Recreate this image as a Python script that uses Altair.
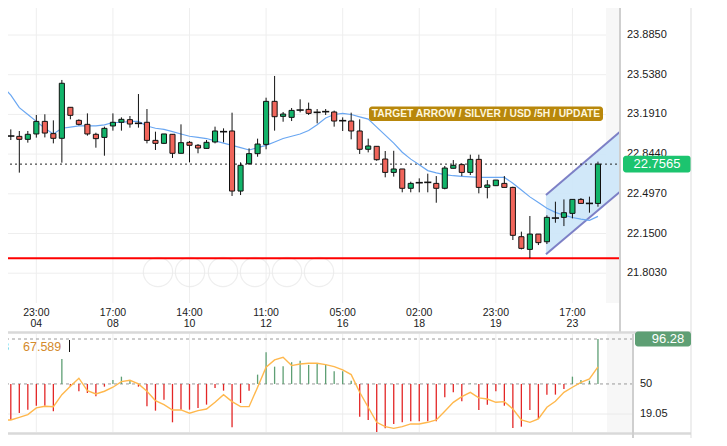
import altair as alt
import pandas as pd

# ---------------- data ----------------
idx = list(range(1, 72))
open_ = [22.990, 23.002, 22.999, 22.973, 23.020, 23.130, 23.023, 22.982, 23.253, 23.139,
         23.104, 23.017, 22.990, 23.090, 23.122, 23.145, 23.113, 23.122, 22.964, 22.938,
         23.017, 22.851, 22.947, 22.921, 22.894, 22.950, 23.040, 23.046, 22.521, 22.760,
         22.848, 22.929, 23.305, 23.174, 23.165, 23.229, 23.235, 23.209, 23.215, 23.212,
         23.136, 23.133, 23.046, 22.886, 22.912, 22.801, 22.684, 22.714, 22.545, 22.594,
         22.597, 22.588, 22.545, 22.720, 22.752, 22.684, 22.798, 22.553, 22.568, 22.588,
         22.553, 22.122, 22.011, 22.145, 22.078, 22.285, 22.291, 22.326, 22.448, 22.413,
         22.413]
high = [23.031, 23.060, 23.046, 23.046, 23.186, 23.192, 23.139, 23.492, 23.253, 23.148,
        23.200, 23.031, 23.084, 23.200, 23.165, 23.177, 23.369, 23.238, 23.040, 23.020,
        23.017, 23.104, 22.958, 22.932, 22.967, 23.084, 23.069, 23.206, 22.772, 22.894,
        22.979, 23.337, 23.527, 23.212, 23.247, 23.323, 23.294, 23.238, 23.238, 23.224,
        23.165, 23.206, 23.148, 22.979, 22.912, 22.871, 22.873, 22.714, 22.603, 22.632,
        22.673, 22.652, 22.740, 22.792, 22.763, 22.839, 22.839, 22.617, 22.617, 22.652,
        22.559, 22.166, 22.303, 22.145, 22.309, 22.428, 22.448, 22.448, 22.460, 22.472,
        22.778]
low = [22.915, 22.967, 22.682, 22.944, 22.988, 22.990, 22.938, 22.769, 23.148, 23.095,
       23.005, 22.900, 22.830, 23.049, 23.049, 23.075, 23.075, 22.938, 22.880, 22.932,
       22.810, 22.851, 22.772, 22.851, 22.891, 22.938, 22.947, 22.478, 22.486, 22.749,
       22.821, 22.886, 23.049, 23.127, 23.133, 23.209, 23.186, 23.113, 23.186, 23.084,
       23.046, 22.973, 22.845, 22.859, 22.786, 22.641, 22.647, 22.510, 22.510, 22.510,
       22.510, 22.419, 22.536, 22.720, 22.652, 22.661, 22.501, 22.457, 22.565, 22.553,
       22.093, 22.011, 21.935, 22.049, 22.058, 22.244, 22.215, 22.282, 22.413, 22.332,
       22.384]
close = [23.011, 23.002, 22.973, 23.017, 23.130, 23.028, 22.982, 23.463, 23.183, 23.104,
         23.020, 22.979, 23.069, 23.122, 23.148, 23.107, 23.113, 22.964, 22.938, 23.020,
         22.851, 22.944, 22.921, 22.897, 22.947, 23.046, 23.040, 22.521, 22.746, 22.848,
         22.932, 23.305, 23.171, 23.194, 23.226, 23.229, 23.200, 23.209, 23.215, 23.133,
         23.136, 23.046, 22.886, 22.915, 22.795, 22.684, 22.714, 22.545, 22.588, 22.594,
         22.597, 22.545, 22.722, 22.746, 22.684, 22.798, 22.553, 22.574, 22.617, 22.553,
         22.134, 22.020, 22.145, 22.070, 22.291, 22.285, 22.332, 22.448, 22.413, 22.413,
         22.7565]
ma = [23.44, 23.36, 23.25, 23.19, 23.13, 23.07, 23.02, 23.07, 23.08, 23.09,
      23.09, 23.09, 23.10, 23.12, 23.12, 23.13, 23.13, 23.09, 23.07, 23.06,
      23.04, 23.02, 23.00, 22.99, 22.98, 22.96, 22.94, 22.92, 22.90, 22.88,
      22.90, 22.92, 22.95, 22.98, 23.00, 23.02, 23.05, 23.10, 23.16, 23.19,
      23.20, 23.19, 23.17, 23.15, 23.08, 23.01, 22.94, 22.86, 22.80, 22.75,
      22.70, 22.68, 22.665, 22.655, 22.65, 22.645, 22.64, 22.64, 22.64, 22.64,
      22.59, 22.53, 22.47, 22.42, 22.37, 22.335, 22.31, 22.29, 22.275, 22.265,
      22.30]
hist = [13.9, 12.9, 20.1, 23.5, 27.6, 27.6, 21.9, 75.8, 47.2, 42.5,
        40.7, 37.3, 47.2, 54.1, 57.5, 53.1, 47.2, 27.0, 22.5, 33.8,
        10.5, 23.5, 23.5, 25.3, 28.7, 45.9, 43.1, 5.4, 30.4, 43.1,
        59.6, 82.7, 67.8, 68.2, 72.4, 74.0, 69.6, 70.6, 69.9, 63.1,
        63.1, 53.4, 16.3, 12.9, 0.5, 4.3, 8.8, 10.5, 11.5, 11.5,
        11.5, 11.5, 36.3, 41.4, 32.2, 50.5, 23.2, 28.7, 42.5, 27.6,
        4.6, 6.0, 23.2, 13.9, 39.0, 39.0, 44.8, 57.5, 54.1, 53.4,
        96.28]
signal = [12.9, 12.9, 15.6, 18.4, 25.3, 27.0, 26.6, 39.0, 47.6, 55.9,
          43.1, 39.7, 42.5, 46.6, 52.4, 53.8, 50.0, 42.5, 32.8, 28.7,
          23.2, 23.2, 19.8, 22.5, 24.2, 31.1, 39.0, 31.8, 26.6, 26.6,
          46.6, 67.2, 74.7, 77.5, 68.9, 70.6, 71.3, 71.3, 69.9, 67.8,
          64.4, 59.6, 41.4, 26.0, 10.5, 6.0, 4.3, 6.0, 8.8, 8.8,
          10.5, 12.9, 21.8, 31.1, 36.9, 41.4, 35.6, 34.5, 31.1, 31.8,
          24.2, 12.9, 10.5, 13.9, 26.0, 32.1, 41.4, 46.6, 51.7, 55.2,
          67.589]

tick_idx = [5, 14, 23, 32, 41, 50, 59, 68]
tick_time = ["23:00", "17:00", "14:00", "11:00", "05:00", "02:00", "23:00", "17:00"]
tick_day = ["04", "08", "10", "12", "16", "18", "19", "23"]

price_ticks = [23.885, 23.538, 23.191, 22.844, 22.497, 22.150, 21.803]
price_labels = ["23.8850", "23.5380", "23.1910", "22.8440", "22.4970", "22.1500", "21.8030"]

last_price = 22.7565
support_level = 21.933
channel_x = [64.89, 73.59]
channel_upper = [22.486, 23.040]
channel_lower = [21.968, 22.515]

ind_dashed = [96.28, 50.0]
ind_grid = [19.05]
ind_tick_vals = [50.0, 19.05]
ind_tick_labels = ["50", "19.05"]
ind_last = 96.28
sig_last = 67.589

annotation = "TARGET ARROW / SILVER / USD /5H / UPDATE"
nav_x = [158, 190, 223, 255, 287, 319]

# ---------------- styling / layout ----------------
GREEN = "#12b46a"
RED = "#f0655b"
FONT = "Liberation Sans"
OFF = 8  # page margin: layout pixels below are page coordinates


def P(v):
    return v - OFF


df = pd.DataFrame({"i": idx, "o": open_, "h": high, "l": low, "c": close,
                   "ma": ma, "hist": hist, "sig": signal})
ticks = pd.DataFrame({"i": tick_idx, "time": tick_time, "day": tick_day})
pt = pd.DataFrame({"v": price_ticks, "lab": price_labels})
chan = pd.DataFrame({"x": channel_x, "up": channel_upper, "lo": channel_lower})
one = pd.DataFrame({"a": [0]})

XS = alt.Scale(domain=[0.73, 73.59], range=[P(0), P(620)], nice=False, zero=False)
YP = alt.Scale(domain=[21.803, 23.885], range=[P(273.2), P(35)], nice=False, zero=False)
YI = alt.Scale(domain=[19.05, 96.28], range=[P(414), P(339)], nice=False, zero=False)


def X(f):
    return alt.X(f, type="quantitative", scale=XS, axis=None)


def YPf(f):
    return alt.Y(f, type="quantitative", scale=YP, axis=None)


def YIf(f):
    return alt.Y(f, type="quantitative", scale=YI, axis=None)


def V(v):
    return alt.value(P(v))


# ---------------- price panel ----------------
vgrid = alt.Chart(ticks).mark_rule(color="#eeeeee", strokeWidth=1).encode(
    x=X("i"), y=V(0), y2=V(303))
hgrid = alt.Chart(pt).mark_rule(color="#eeeeee", strokeWidth=1).encode(
    y=YPf("v"), x=V(0), x2=V(620))
hatch = alt.Chart(one).mark_rect(color="#f7f7f7").encode(
    x=V(606), x2=V(620), y=V(0), y2=V(303))

nav = [alt.Chart(one).mark_point(shape="circle", size=860, filled=False,
                                 stroke="#e8e8e8", strokeWidth=1.2).encode(
    x=V(nx), y=V(272)) for nx in nav_x]

chan_area = alt.Chart(chan).mark_area(color="#cce5f8", opacity=0.9).encode(
    x=X("x"), y=YPf("up"), y2="lo")
chan_up = alt.Chart(chan).mark_line(color="#7d80c6", strokeWidth=2).encode(
    x=X("x"), y=YPf("up"))
chan_lo = alt.Chart(chan).mark_line(color="#7d80c6", strokeWidth=2).encode(
    x=X("x"), y=YPf("lo"))

support = alt.Chart(pd.DataFrame({"v": [support_level]})).mark_rule(
    color="#ff0000", strokeWidth=2).encode(y=YPf("v"), x=V(0), x2=V(620))
lastline = alt.Chart(pd.DataFrame({"v": [last_price]})).mark_rule(
    color="#222222", strokeWidth=1, strokeDash=[2, 3]).encode(
    y=YPf("v"), x=V(0), x2=V(621))

ma_line = alt.Chart(df).mark_line(color="#6aa7f2", strokeWidth=1.2).encode(
    x=X("i"), y=YPf("ma"))

base = alt.Chart(df).transform_calculate(xl="datum.i - 0.3", xr="datum.i + 0.3",
                                         dl="datum.i - 0.42", dr="datum.i + 0.42")
wick = base.mark_rule(color="#111111", strokeWidth=1).encode(
    x=X("i"), y=YPf("l"), y2="h")
body = base.transform_filter("datum.o != datum.c").mark_bar(
    stroke="#111111", strokeWidth=1).encode(
    x=X("xl"), x2="xr", y=YPf("o"), y2="c",
    color=alt.condition("datum.c > datum.o", alt.value(GREEN), alt.value(RED)))
doji = base.transform_filter("datum.o == datum.c").mark_rule(
    color="#111111", strokeWidth=1.6).encode(
    x=X("dl"), x2="dr", y=YPf("o"))

ann_box = alt.Chart(one).mark_rect(color="#b8870b", cornerRadius=3).encode(
    x=V(369), x2=V(603), y=V(106.5), y2=V(121))
ann_txt = alt.Chart(one).mark_text(text=annotation, font=FONT, fontSize=10.3,
                                   fontWeight="bold", color="#fdf6dc",
                                   align="center", baseline="middle").encode(
    x=V(486), y=V(114))

ylabels = alt.Chart(pt).mark_text(font=FONT, fontSize=11, color="#1a1a1a",
                                  align="left", baseline="middle").encode(
    y=YPf("v"), x=V(627), text="lab")

badge_df = pd.DataFrame({"v": [last_price], "lab": ["22.7565"]})
badge = alt.Chart(badge_df).transform_calculate(
    top="datum.v + 0.0726", bot="datum.v - 0.0726").mark_rect(
    color="#1cc46f", cornerRadius=3).encode(
    x=V(623), x2=V(691), y=YPf("top"), y2="bot")
badge_txt = alt.Chart(badge_df).mark_text(font=FONT, fontSize=13, color="white",
                                          align="center", baseline="middle").encode(
    x=V(657), y=YPf("v"), text="lab")

xt1 = alt.Chart(ticks).mark_text(font=FONT, fontSize=10.5, color="#1a1a1a",
                                 baseline="middle").encode(
    x=X("i"), y=V(313), text="time")
xt2 = alt.Chart(ticks).mark_text(font=FONT, fontSize=10.5, color="#1a1a1a",
                                 baseline="middle").encode(
    x=X("i"), y=V(323.5), text="day")

border1 = alt.Chart(one).mark_rule(color="#cfcfcf", strokeWidth=2).encode(
    x=V(620), y=V(0), y2=V(332))
border2 = alt.Chart(one).mark_rule(color="#dddddd", strokeWidth=1).encode(
    x=V(691), y=V(0), y2=V(446))
sep1 = alt.Chart(one).mark_rule(color="#d9d9d9", strokeWidth=2.5).encode(
    y=V(332.5), x=V(0), x2=V(691))
sep2 = alt.Chart(one).mark_rule(color="#d9d9d9", strokeWidth=2.5).encode(
    y=V(433.5), x=V(0), x2=V(691))

price_panel = alt.layer(
    vgrid, hgrid, hatch, *nav, chan_area, chan_up, chan_lo, support, lastline,
    ma_line, wick, body, doji, ann_box, ann_txt, ylabels, badge, badge_txt,
    xt1, xt2, border1, border2, sep1, sep2)

# ---------------- indicator panel ----------------
ivgrid = alt.Chart(ticks).mark_rule(color="#eeeeee", strokeWidth=1).encode(
    x=X("i"), y=V(334), y2=V(432))
ihatch = alt.Chart(one).mark_rect(color="#f7f7f7").encode(
    x=V(607), x2=V(632), y=V(334), y2=V(432))
igrid = alt.Chart(pd.DataFrame({"v": ind_grid})).mark_rule(
    color="#eaeaea", strokeWidth=1).encode(y=YIf("v"), x=V(0), x2=V(632))
idash = alt.Chart(pd.DataFrame({"v": ind_dashed})).mark_rule(
    color="#9a9a9a", strokeWidth=1, strokeDash=[3, 3]).encode(
    y=YIf("v"), x=V(0), x2=V(632))
ibars = alt.Chart(df).transform_calculate(mid="50").mark_rule(strokeWidth=1.3).encode(
    x=X("i"), y=YIf("hist"), y2="mid",
    color=alt.condition("datum.hist >= 50", alt.value("#5e9f74"), alt.value("#e32626")))
isig = alt.Chart(df).mark_line(color="#ffb84d", strokeWidth=1.4).encode(
    x=X("i"), y=YIf("sig"))

itl = alt.Chart(pd.DataFrame({"v": ind_tick_vals, "lab": ind_tick_labels})).mark_text(
    font=FONT, fontSize=11, color="#1a1a1a", align="left", baseline="middle").encode(
    y=YIf("v"), x=V(640), text="lab")
ib_df = pd.DataFrame({"v": [ind_last], "lab": ["96.28"]})
ibadge = alt.Chart(ib_df).transform_calculate(
    top="datum.v + 7.7", bot="datum.v - 7.7").mark_rect(
    color="#5e9f74", cornerRadius=3).encode(
    x=V(635), x2=V(691), y=YIf("top"), y2="bot")
ibadge_txt = alt.Chart(ib_df).mark_text(font=FONT, fontSize=13, color="white",
                                        align="center", baseline="middle").encode(
    x=V(668), y=YIf("v"), text="lab")
iborder = alt.Chart(one).mark_rule(color="#cfcfcf", strokeWidth=2).encode(
    x=V(633), y=V(334), y2=V(446))

hdr_df = pd.DataFrame({"g": ["96.28"], "s": [f"{sig_last:.3f}"]})
hdr_g = alt.Chart(hdr_df).mark_text(font=FONT, fontSize=12.5, color="#5e9f74",
                                    align="right", baseline="middle").encode(
    x=V(9), y=V(346.5), text="g")
hdr_s = alt.Chart(hdr_df).mark_text(font=FONT, fontSize=12.5, color="#d48a2c",
                                    align="left", baseline="middle").encode(
    x=V(23), y=V(346.5), text="s")
cursor = alt.Chart(one).mark_rule(color="#111111", strokeWidth=1).encode(
    x=V(69.5), y=V(340), y2=V(352))

ind_panel = alt.layer(
    ivgrid, ihatch, igrid, idash, ibars, isig, itl, ibadge, ibadge_txt, iborder,
    hdr_g, hdr_s, cursor)

# the page adds an 8px margin on every side, so the drawing is 16px smaller
chart = alt.layer(price_panel, ind_panel).resolve_scale(y="independent").properties(
    width=727 - 2 * OFF, height=446 - 2 * OFF,
    autosize=alt.AutoSizeParams(type="none"),
    padding=0,
    background="white",
).configure_view(stroke=None)

chart.save("out.html", embed_options={"renderer": "svg", "actions": False})
